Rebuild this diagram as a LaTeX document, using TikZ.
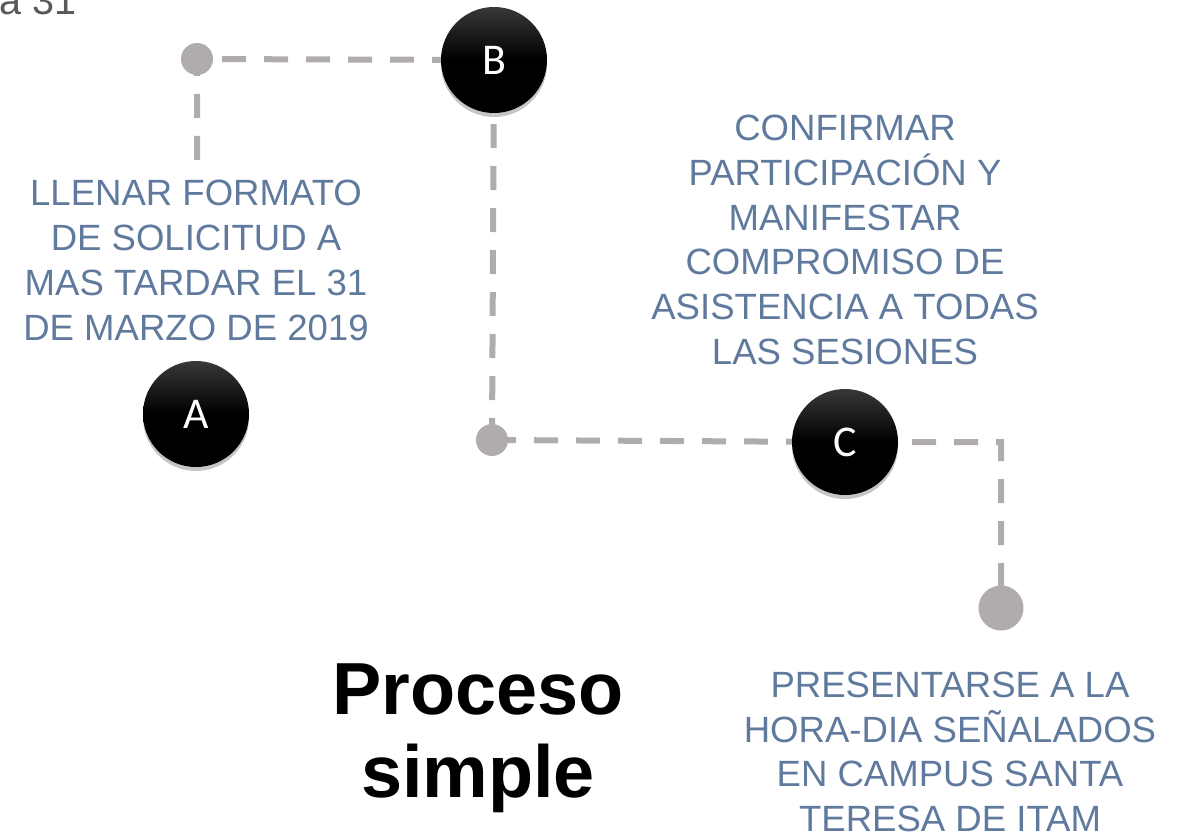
\documentclass[tikz,border=0pt]{standalone}
\usepackage{fontspec}
\setmainfont{Liberation Sans}
\newfontfamily\letrafont{Carlito}
\usetikzlibrary{positioning,backgrounds,shadows}

\definecolor{textoazul}{RGB}{96,122,158}
\definecolor{grislinea}{RGB}{176,172,172}
\definecolor{griscorte}{RGB}{89,89,89}

\begin{document}
\begin{tikzpicture}[
    x=0.2mm, y=-0.2mm,
    letra/.style={circle, minimum size=21.2mm, inner sep=0pt,
        top color=black!78, bottom color=black, middle color=black,
        drop shadow={opacity=0.45, shadow xshift=0pt, shadow yshift=-0.8mm},
        text=white, font=\letrafont\fontsize{25}{30}\selectfont},   % Style for the black letter circles
    punto/.style={circle, fill=grislinea, inner sep=0pt},           % Style for the grey dots
    texto/.style={align=center, inner sep=0pt, text=textoazul,
        font=\fontsize{20.8}{25.5}\selectfont},                      % Style for the step texts
    linea/.style={draw=grislinea, line width=1.2mm,
        dash pattern=on 4.8mm off 3.6mm}                             % Style for the dashed path
    ]

    \useasboundingbox (0,0) rectangle (1186,834);

    % Cut-off text at the top left
    \node[anchor=base west, inner sep=0pt, text=griscorte,
        font=\fontsize{22.5}{27}\selectfont] (corte) at (-1,15) {a 31};

    % Letter circles
    \node[letra] (A) at (196,414) {A};
    \node[letra] (B) at (494,60) {B};
    \node[letra] (C) at (845,442) {C};

    % Grey dots and corners
    \node[punto, minimum size=6.4mm] (p1) at (197,59) {};
    \node[punto, minimum size=6.4mm] (p2) at (492,440) {};
    \node[punto, minimum size=9mm] (p3) at (1001,608) {};
    \coordinate (finA) at (197,160);
    \coordinate (esq) at (1001,442);

    % Step texts
    \node[texto] (tA) at (196,260.5) {LLENAR FORMATO\\DE SOLICITUD A\\MAS TARDAR EL 31\\DE MARZO DE 2019};
    \node[texto] (tC) at (845,240) {CONFIRMAR\\PARTICIPACIÓN Y\\MANIFESTAR\\COMPROMISO DE\\ASISTENCIA A TODAS\\LAS SESIONES};
    \node[texto] (tD) at (950,752) {PRESENTARSE A LA\\HORA-DIA SEÑALADOS\\EN CAMPUS SANTA\\TERESA DE ITAM};

    % Title
    \node[anchor=north, align=center, inner sep=0pt,
        font=\bfseries\fontsize{42}{47.5}\selectfont] (titulo) at (478,663) {Proceso\\simple};

    % Dashed path behind the circles
    \begin{scope}[on background layer]
        \draw[linea] (finA) -- (p1.center) -- (B.center) -- (p2.center);
        \draw[linea] (p2.center) -- (C.center) -- (esq) -- (p3.center);
    \end{scope}

\end{tikzpicture}
\end{document}
